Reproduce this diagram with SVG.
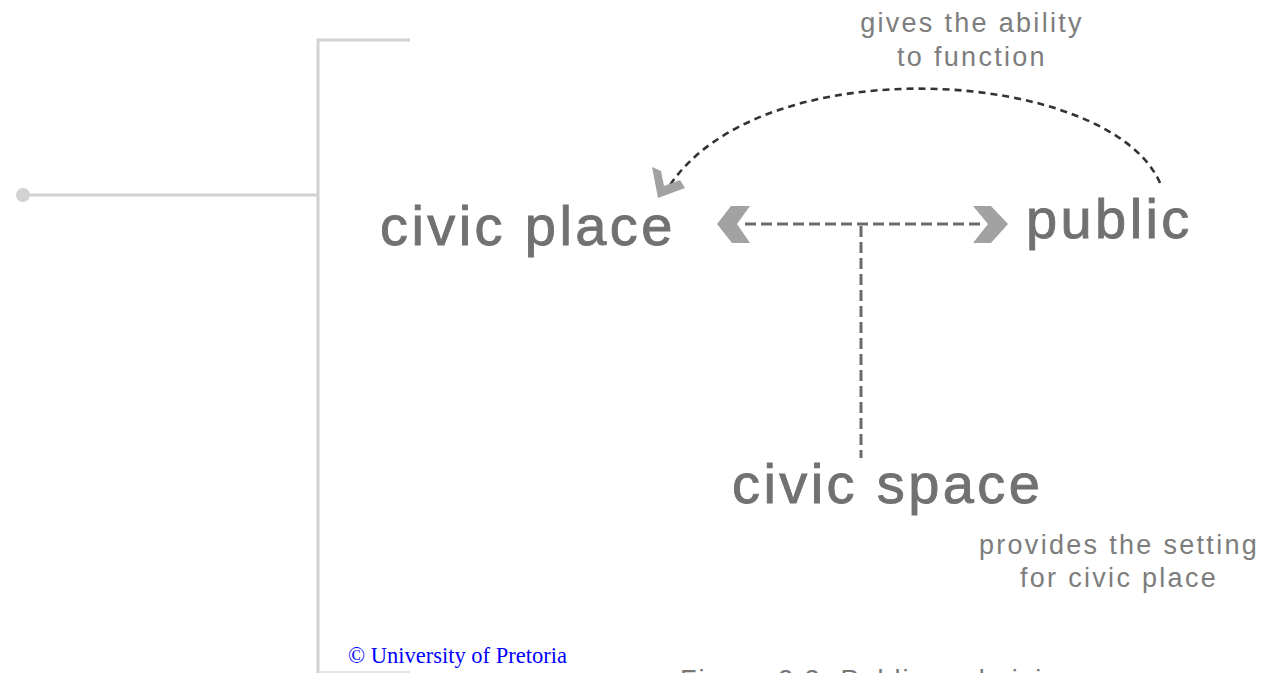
<svg xmlns="http://www.w3.org/2000/svg" width="1270" height="673" viewBox="0 0 1270 673">
<style>
.big{font-family:"Liberation Sans",Arial,sans-serif;font-size:56px;fill:#717171;stroke:#717171;stroke-width:0.9px;letter-spacing:3.4px}
.small{font-family:"Liberation Sans",Arial,sans-serif;font-size:27px;fill:#7d7d7d;letter-spacing:2.3px;text-anchor:middle}
.frame{stroke:#d2d2d2;stroke-width:3;fill:none}
.head{fill:#a2a2a2}
.dash{fill:none;stroke:#6a6a6a;stroke-width:3;stroke-dasharray:11 5}
.curve{fill:none;stroke:#333;stroke-width:2.6;stroke-dasharray:7 5}
</style>
<rect width="1270" height="673" fill="#fff"/>
<g id="frame">
<polyline class="frame" points="410,40 318,40 318,673"/>
<line class="frame" x1="23" y1="195" x2="318" y2="195"/>
<circle cx="23" cy="195" r="7" fill="#d2d2d2"/>
<line x1="320" y1="672" x2="410" y2="672" stroke="#e6e6e6" stroke-width="2"/>
</g>
<g id="connectors">
<path class="curve" d="M1160,183 C1110,68 760,45 668,188"/>
<polygon class="head" points="652,167 661,171 664,186 680,180 685,188 658,198"/>
<line class="dash" x1="745" y1="224" x2="980" y2="224"/>
<polygon class="head" points="717,224 731,206 750,206 737,224 750,243 732,243"/>
<polygon class="head" points="973,206 991,206 1008,224 991,243 973,243 988,224"/>
<line class="dash" x1="861" y1="226" x2="861" y2="458"/>
</g>
<g id="node-civic-place"><text class="big" x="380" y="245">civic place</text></g>
<g id="node-public"><text class="big" x="1026" y="238">public</text></g>
<g id="node-civic-space"><text class="big" x="732" y="503">civic space</text></g>
<g id="label-function"><text class="small" x="972" y="32">gives the ability</text><text class="small" x="972" y="66">to function</text></g>
<g id="label-setting"><text class="small" x="1119" y="554">provides the setting</text><text class="small" x="1119" y="587">for civic place</text></g>
<text x="348" y="663" font-family="'Liberation Serif','Times New Roman',serif" font-size="22.5" fill="#0000ff">© University of Pretoria</text>
<text x="680" y="689" font-family="'Liberation Sans',Arial,sans-serif" font-size="27" fill="#777" letter-spacing="2">Figure 2.2: Public and civic</text>
</svg>
